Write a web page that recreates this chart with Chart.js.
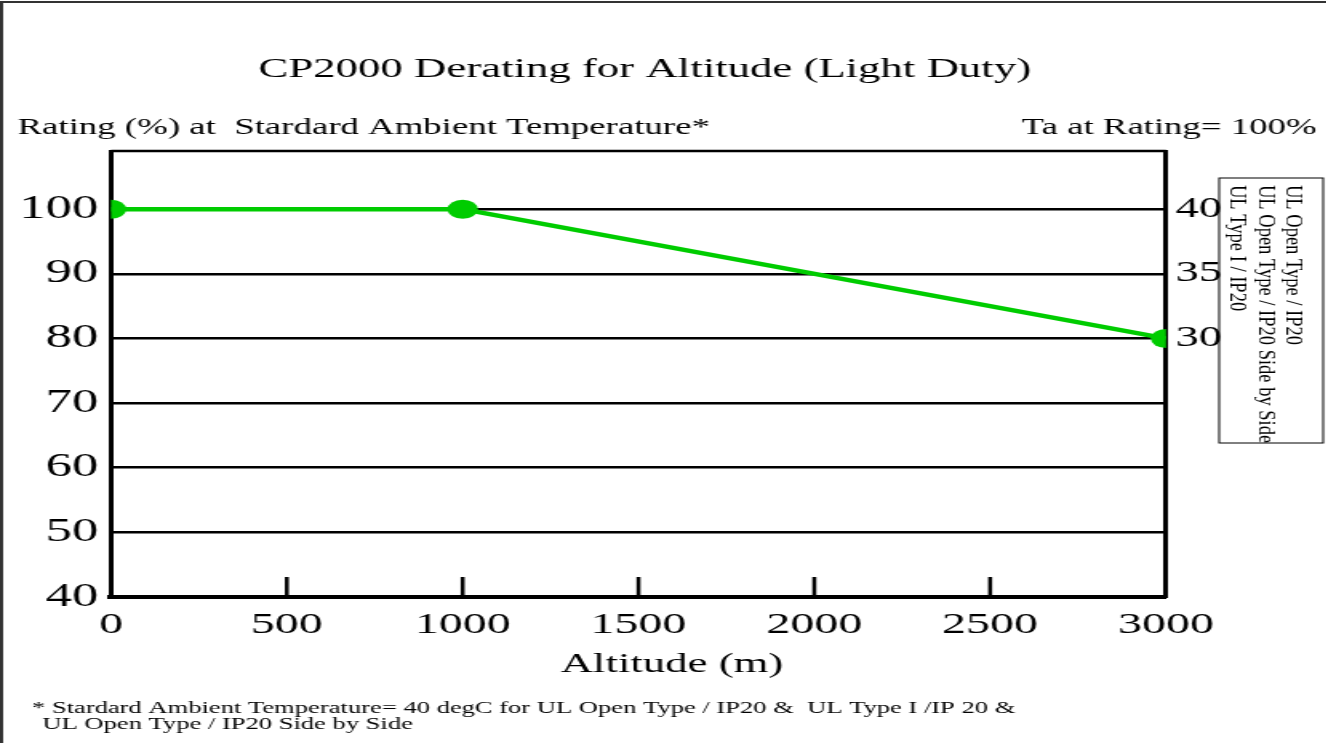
<!DOCTYPE html>
<html>
<head>
<meta charset="utf-8">
<script src="https://cdn.jsdelivr.net/npm/chart.js@4.4.1/dist/chart.umd.min.js"></script>
<style>
html, body { margin: 0; padding: 0; background: #fff; overflow: hidden; }
/* the original picture is stretched sideways, so the canvas is too */
#wrap { width: 829px; height: 743px; transform: scaleX(1.6); transform-origin: 0 0; }
</style>
</head>
<body>
<div id="wrap"><canvas id="derating" width="829" height="743"></canvas></div>
<script>
const altitude = [0, 1000, 3000];
const rating = [100, 100, 80];
const xTicks = [0, 500, 1000, 1500, 2000, 2500, 3000];
const ratingTicks = [40, 50, 60, 70, 80, 90, 100];
const taTicks = [30, 35, 40];
const legendLabels = ['UL Open Type / IP20', 'UL Open Type / IP20 Side by Side', 'UL Type I / IP20'];
const footnote = [
    '* Stardard Ambient Temperature= 40 degC for UL Open Type / IP20 &  UL Type I /IP 20 &',
    'UL Open Type / IP20 Side by Side',
];

const SERIF = '"Liberation Serif", "Times New Roman", serif';
const GREEN = '#00cc00';

const decorations = {
    id: 'decorations',
    beforeDatasetsDraw(chart) {
        const { ctx, chartArea } = chart;
        const x = chart.scales.x;
        ctx.save();
        ctx.strokeStyle = '#000';
        // top edge of the plot box
        ctx.lineWidth = 2.5;
        ctx.beginPath();
        ctx.moveTo(chartArea.left, chartArea.top);
        ctx.lineTo(chartArea.right, chartArea.top);
        ctx.stroke();
        // inner tick marks on the altitude axis
        ctx.lineWidth = 2.5;
        x.ticks.forEach(t => {
            if (t.value === x.min || t.value === x.max) return;
            const px = x.getPixelForValue(t.value);
            ctx.beginPath();
            ctx.moveTo(px, chartArea.bottom);
            ctx.lineTo(px, chartArea.bottom - 20);
            ctx.stroke();
        });
        ctx.restore();
    },
    afterDraw(chart) {
        const { ctx, width, height } = chart;
        ctx.save();
        ctx.fillStyle = '#000';

        // outer frame (top and left only, as in the picture)
        ctx.strokeStyle = '#333';
        ctx.lineWidth = 2;
        ctx.beginPath();
        ctx.moveTo(1, height);
        ctx.lineTo(1, 2);
        ctx.lineTo(width, 2);
        ctx.stroke();

        ctx.textBaseline = 'alphabetic';
        ctx.font = `28px ${SERIF}`;
        ctx.textAlign = 'center';
        ctx.fillText('CP2000 Derating for Altitude (Light Duty)', 403, 77);
        ctx.fillText('Altitude (m)', 420, 672);

        ctx.font = `23px ${SERIF}`;
        ctx.textAlign = 'left';
        ctx.fillText('Rating (%) at  Stardard Ambient Temperature*', 11, 134);
        ctx.textAlign = 'right';
        ctx.fillText('Ta at Rating= 100%', 823, 134);

        ctx.font = `16.6px ${SERIF}`;
        ctx.textAlign = 'left';
        ctx.fillText(footnote[0], 20, 713);
        ctx.fillText(footnote[1], 26.5, 729);

        // legend box with vertical labels
        ctx.strokeStyle = '#000';
        ctx.lineWidth = 1;
        ctx.strokeRect(762, 178, 65, 265);
        ctx.font = `18.5px ${SERIF}`;
        ctx.textBaseline = 'middle';
        const cols = [808, 790.5, 773];
        legendLabels.forEach((label, i) => {
            ctx.save();
            ctx.translate(cols[i], 185);
            ctx.rotate(Math.PI / 2);
            ctx.scale(1, 0.75);
            ctx.fillText(label, 0, 0);
            ctx.restore();
        });
        ctx.restore();
    },
};

new Chart(document.getElementById('derating'), {
    type: 'line',
    data: {
        datasets: [{
            label: 'Rating',
            data: altitude.map((a, i) => ({ x: a, y: rating[i] })),
            borderColor: GREEN,
            backgroundColor: GREEN,
            borderWidth: 4.5,
            pointRadius: 9.5,
            pointHoverRadius: 9.5,
            pointBorderWidth: 0,
            tension: 0,
            clip: 0,
        }],
    },
    options: {
        responsive: false,
        animation: false,
        events: [],
        layout: { padding: { top: 151, left: 0, right: 0, bottom: 0 } },
        plugins: {
            legend: { display: false },
            title: { display: false },
            tooltip: { enabled: false },
        },
        scales: {
            x: {
                type: 'linear',
                min: 0,
                max: 3000,
                afterBuildTicks: s => { s.ticks = xTicks.map(v => ({ value: v })); },
                afterFit: s => { s.height = 146; },
                ticks: {
                    callback: v => String(v),
                    font: { family: SERIF, size: 30 },
                    color: '#000',
                    padding: 10,
                    maxRotation: 0,
                },
                grid: { drawOnChartArea: false, drawTicks: false },
                border: { color: '#000', width: 4 },
            },
            y: {
                position: 'left',
                min: 40,
                max: 109,
                afterBuildTicks: s => { s.ticks = ratingTicks.map(v => ({ value: v })); },
                afterFit: s => { s.width = 69.4; },
                ticks: {
                    callback: v => String(v),
                    font: { family: SERIF, size: 33 },
                    color: '#000',
                    padding: 8,
                },
                grid: { color: '#000', lineWidth: 2.5, drawTicks: false },
                border: { color: '#000', width: 3 },
            },
            y2: {
                position: 'right',
                min: 10,
                max: 44.5,
                afterBuildTicks: s => { s.ticks = taTicks.map(v => ({ value: v })); },
                afterFit: s => { s.width = 100.25; },
                ticks: {
                    callback: v => String(v),
                    font: { family: SERIF, size: 29 },
                    color: '#000',
                    padding: 6,
                },
                grid: { drawOnChartArea: false, drawTicks: false },
                border: { color: '#000', width: 3 },
            },
        },
    },
    plugins: [decorations],
});
</script>
</body>
</html>
